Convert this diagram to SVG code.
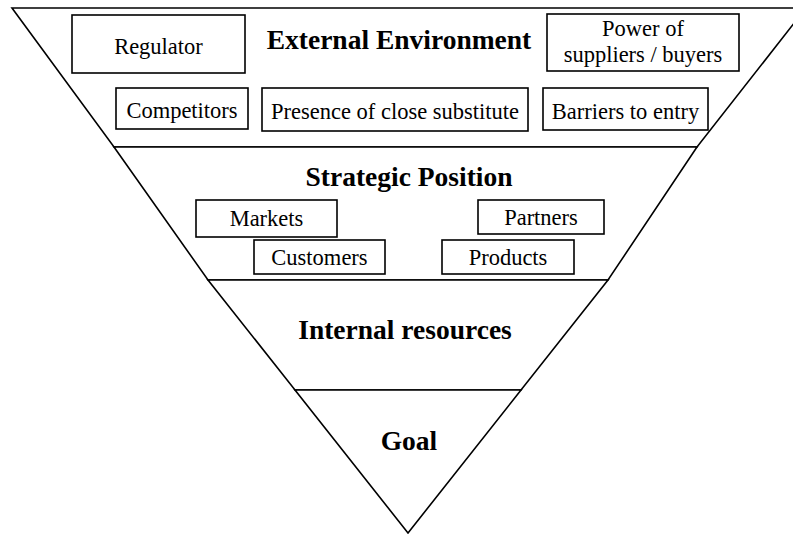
<svg xmlns="http://www.w3.org/2000/svg" width="793" height="534" viewBox="0 0 793 534">
  <style>
    .band { fill: #fff; stroke: #000; stroke-width: 1.6; stroke-linejoin: miter; }
    .box { fill: #fff; stroke: #000; stroke-width: 1.6; }
    .lbl { font-family: "Liberation Serif", "Times New Roman", serif; font-size: 22.5px; fill: #000; text-anchor: middle; }
    .title { font-family: "Liberation Serif", "Times New Roman", serif; font-size: 27.5px; font-weight: bold; fill: #000; text-anchor: middle; }
  </style>

  <!-- funnel bands -->
  <g id="band-external">
    <polygon class="band" points="12,8 806,8 697,147 114,147"/>
  </g>
  <g id="band-strategic">
    <polygon class="band" points="114,147 697,147 608,280 208,280"/>
  </g>
  <g id="band-internal">
    <polygon class="band" points="208,280 608,280 521,390 295,390"/>
  </g>
  <g id="band-goal">
    <polygon class="band" points="295,390 521,390 408,533"/>
  </g>

  <!-- band titles -->
  <g id="title-external"><text class="title" x="399" y="49">External Environment</text></g>
  <g id="title-strategic"><text class="title" x="409" y="186">Strategic Position</text></g>
  <g id="title-internal"><text class="title" x="405" y="339">Internal resources</text></g>
  <g id="title-goal"><text class="title" x="409" y="450">Goal</text></g>

  <!-- external environment factors -->
  <g id="regulator">
    <rect class="box" x="72" y="15" width="173" height="58"/>
    <text class="lbl" x="158.5" y="54">Regulator</text>
  </g>
  <g id="power">
    <rect class="box" x="547" y="14" width="192" height="57"/>
    <text class="lbl" x="643" y="36">Power of</text>
    <text class="lbl" x="643" y="62">suppliers / buyers</text>
  </g>
  <g id="competitors">
    <rect class="box" x="116" y="88" width="132" height="41"/>
    <text class="lbl" x="182" y="118">Competitors</text>
  </g>
  <g id="substitute">
    <rect class="box" x="262" y="88" width="266" height="43"/>
    <text class="lbl" x="395" y="119">Presence of close substitute</text>
  </g>
  <g id="barriers">
    <rect class="box" x="543" y="88" width="165" height="42"/>
    <text class="lbl" x="625.5" y="119">Barriers to entry</text>
  </g>

  <!-- strategic position factors -->
  <g id="markets">
    <rect class="box" x="196" y="200" width="141" height="37"/>
    <text class="lbl" x="266.5" y="226">Markets</text>
  </g>
  <g id="partners">
    <rect class="box" x="478" y="200" width="126" height="34"/>
    <text class="lbl" x="541" y="225">Partners</text>
  </g>
  <g id="customers">
    <rect class="box" x="254" y="240" width="131" height="34"/>
    <text class="lbl" x="319.5" y="265">Customers</text>
  </g>
  <g id="products">
    <rect class="box" x="442" y="240" width="132" height="34"/>
    <text class="lbl" x="508" y="265">Products</text>
  </g>
</svg>
